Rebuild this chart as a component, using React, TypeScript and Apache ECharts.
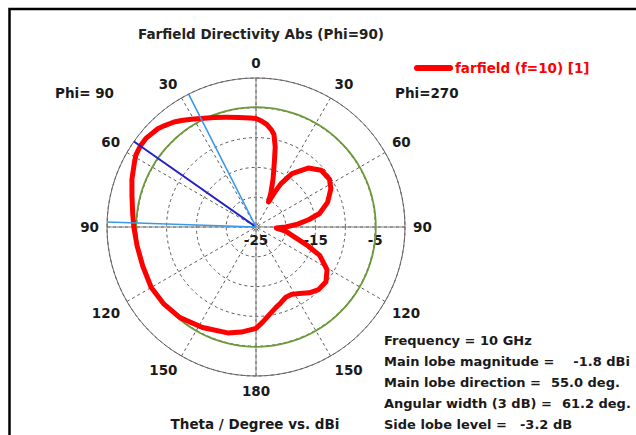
import React, { useEffect, useRef } from 'react';
import * as echarts from 'echarts';

const FONT = '"DejaVu Sans", Verdana, sans-serif';
const FS = 13.5;
const FS_INFO = 13;

const chartTitle = 'Farfield Directivity Abs (Phi=90)';
const seriesName = 'farfield (f=10) [1]';
const leftCutLabel = 'Phi= 90';
const rightCutLabel = 'Phi=270';
const xAxisTitle = 'Theta / Degree vs. dBi';

// radial scale (dBi)
const radiusMin = -25;
const radiusMax = 0;
const radiusStep = 5;
const radiusLabelsShown = [-25, -15, -5];

// Phi = 90 cut (left half), theta in degrees, directivity in dBi
const phi90Theta = [0, 3, 9, 15, 21, 27, 31, 35, 38, 42, 45, 51, 55, 59, 62, 69, 76, 84, 90, 99, 109, 120, 130, 140, 152, 165, 172, 180];
const phi90Dbi = [-6.8, -6.7, -6.4, -5.95, -5.3, -4.55, -3.9, -3.2, -2.65, -2.1, -1.7, -1.3, -1.3, -1.5, -1.9, -2.7, -3.55, -4.2, -4.5, -4.8, -4.9, -4.7, -4.85, -5.15, -5.9, -6.6, -7.2, -8.0];

// Phi = 270 cut (right half)
const phi270Theta = [0, 3, 6, 9, 11, 13.5, 15.5, 19.5, 23.5, 26.5, 28.5, 30, 34, 41.5, 49, 57, 63, 71, 78, 82, 86, 90, 93, 98, 103, 110, 114, 121, 128, 135, 141, 147, 152, 157, 162, 166, 171, 176, 180];
const phi270Dbi = [-6.8, -7.2, -7.7, -8.5, -9.2, -11.2, -13.4, -16.4, -18.7, -20.3, -18.2, -16.6, -14.2, -11.8, -10.5, -10.3, -10.9, -12.3, -14.1, -16.0, -18.0, -20.0, -21.6, -20.0, -18.8, -15.7, -13.3, -11.1, -10.1, -10.15, -10.8, -11.7, -12.2, -12.2, -11.6, -11.1, -10.2, -9.0, -8.0];

const mainLobeDirection = 55; // deg, Phi=90 side
const halfPowerThetas = [26.9, 88.1]; // deg, Phi=90 side
const halfPowerLevel = -4.9; // -3 dB circle as drawn

const infoLabels = ['Frequency = 10 GHz', 'Main lobe magnitude =', 'Main lobe direction =', 'Angular width (3 dB) =', 'Side lobe level ='];
const infoValues = ['', '-1.8 dBi', '55.0 deg.', '61.2 deg.', '-3.2 dB'];

// angle axis value: 90 at right, increasing clockwise (180 bottom, 270 left, 360 top)
const angleOfPhi90 = (t: number) => 360 - t;
const angleOfPhi270 = (t: number) => (t < 90 ? t + 360 : t);
const angleLabel = (a: number) => {
  if (a >= 450) return '';
  const v = a <= 180 ? a : a <= 360 ? 360 - a : a - 360;
  return String(Math.round(v));
};

export default function App() {
  const ref = useRef<HTMLDivElement>(null);

  useEffect(() => {
    if (!ref.current) return;
    const chart = echarts.init(ref.current, undefined, { renderer: 'svg' });

    const curve = [
      ...phi90Theta.map((t, i) => [phi90Dbi[i], angleOfPhi90(t)]).reverse(),
      ...phi270Theta.map((t, i) => [phi270Dbi[i], angleOfPhi270(t)]),
    ];
    const ring: number[][] = [];
    for (let a = 90; a <= 450; a += 3) ring.push([halfPowerLevel, a]);
    const spoke = (t: number) => [[radiusMin, angleOfPhi90(t)], [radiusMax, angleOfPhi90(t)]];

    const center = [256, 227];
    const R = 149;
    const font = (size: number) => `bold ${size}px ${FONT}`;
    const txt = (text: string, x: number, y: number, align: string, size = FS, color = '#1a1a1a') => ({
      type: 'text',
      x,
      y,
      silent: true,
      style: {
        text,
        fill: color,
        font: font(size),
        textAlign: align,
        textVerticalAlign: 'middle',
        align,
        verticalAlign: 'middle',
      },
    });

    const infoY = [340, 361, 382, 403, 424];
    const valueGap = [0, 19, 10, 10, 13];
    const graphics: any[] = [
      {
        type: 'rect',
        shape: { x: 9.5, y: 9, width: 800, height: 600 },
        style: { fill: 'none', stroke: '#000', lineWidth: 2.5 },
        silent: true,
      },
      txt(leftCutLabel, 55, 93, 'left'),
      txt(rightCutLabel, 395, 93, 'left'),
      txt(xAxisTitle, 255, 424, 'center'),
    ];
    infoLabels.forEach((l, i) => {
      const v = infoValues[i];
      graphics.push({
        type: 'text',
        x: 384,
        y: infoY[i],
        silent: true,
        style: {
          text: v ? `{a|${l}}{g|}{a|${v}}` : `{a|${l}}`,
          fill: '#1a1a1a',
          font: font(FS_INFO),
          textAlign: 'left',
          textVerticalAlign: 'middle',
          align: 'left',
          verticalAlign: 'middle',
          rich: {
            a: { font: font(FS_INFO), fill: '#1a1a1a' },
            g: { width: valueGap[i], height: 1 },
          },
        },
      });
    });

    const labelStyle = { color: '#1a1a1a', fontWeight: 'bold', fontSize: FS, fontFamily: FONT };

    chart.setOption({
      animation: false,
      backgroundColor: '#fff',
      title: {
        text: chartTitle,
        left: 256,
        top: 22,
        textAlign: 'center',
        textStyle: { ...labelStyle, color: '#222' },
      },
      legend: {
        data: [seriesName],
        left: 414,
        top: 61,
        padding: 0,
        itemWidth: 33,
        itemHeight: 6,
        lineStyle: { width: 6, cap: 'round' },
        textStyle: { ...labelStyle, color: '#ff0000' },
        selectedMode: false,
      },
      polar: [
        { center, radius: R },
        { center, radius: R },
      ],
      angleAxis: [
        {
          polarIndex: 0,
          type: 'value',
          min: 90,
          max: 450,
          interval: 30,
          startAngle: 0,
          clockwise: true,
          axisLine: { show: true, lineStyle: { color: '#666', width: 1 } },
          axisTick: { show: false },
          axisLabel: { ...labelStyle, margin: 8, formatter: (v: number) => angleLabel(v) },
          splitLine: { show: true, lineStyle: { color: '#5a5a5a', width: 1, type: [3, 3] } },
        },
        {
          polarIndex: 1,
          type: 'value',
          min: 90,
          max: 450,
          interval: 90,
          startAngle: 0,
          clockwise: true,
          axisLine: { show: false },
          axisTick: { show: false },
          axisLabel: { show: false },
          splitLine: { show: true, lineStyle: { color: '#808080', width: 1 } },
        },
      ],
      radiusAxis: [
        {
          polarIndex: 0,
          type: 'value',
          min: radiusMin,
          max: radiusMax,
          interval: radiusStep,
          axisLine: { show: false },
          axisTick: { show: false },
          axisLabel: {
            ...labelStyle,
            margin: -20,
            formatter: (v: number) => (radiusLabelsShown.includes(v) ? String(v) : ''),
          },
          splitLine: { show: true, lineStyle: { color: '#5a5a5a', width: 1, type: [3, 3] } },
        },
        {
          polarIndex: 1,
          type: 'value',
          min: radiusMin,
          max: radiusMax,
          interval: radiusStep,
          axisLine: { show: false },
          axisTick: { show: false },
          axisLabel: { show: false },
          splitLine: { show: false },
        },
      ],
      series: [
        {
          name: '-3 dB level',
          type: 'line',
          coordinateSystem: 'polar',
          polarIndex: 0,
          data: ring,
          symbol: 'none',
          silent: true,
          lineStyle: { color: '#6c9a38', width: 1.8 },
          z: 2,
        },
        {
          name: seriesName,
          type: 'line',
          coordinateSystem: 'polar',
          polarIndex: 0,
          data: curve,
          symbol: 'none',
          color: '#ff0000',
          lineStyle: { color: '#ff0000', width: 5, join: 'round', cap: 'round' },
          z: 3,
        },
        {
          name: 'Main lobe',
          type: 'line',
          coordinateSystem: 'polar',
          polarIndex: 0,
          data: spoke(mainLobeDirection),
          symbol: 'none',
          lineStyle: { color: '#2020c8', width: 2 },
          z: 4,
        },
        ...halfPowerThetas.map((t) => ({
          name: 'Half power ' + t,
          type: 'line',
          coordinateSystem: 'polar',
          polarIndex: 0,
          data: spoke(t),
          symbol: 'none',
          lineStyle: { color: '#3a98ea', width: 1.6 },
          z: 4,
        })),
      ],
      graphic: graphics,
    });

    return () => chart.dispose();
  }, []);

  return (
    <div style={{ position: 'fixed', left: 0, top: 0, width: 636, height: 435, background: '#fff' }}>
      <div ref={ref} style={{ width: 636, height: 435 }} />
    </div>
  );
}
